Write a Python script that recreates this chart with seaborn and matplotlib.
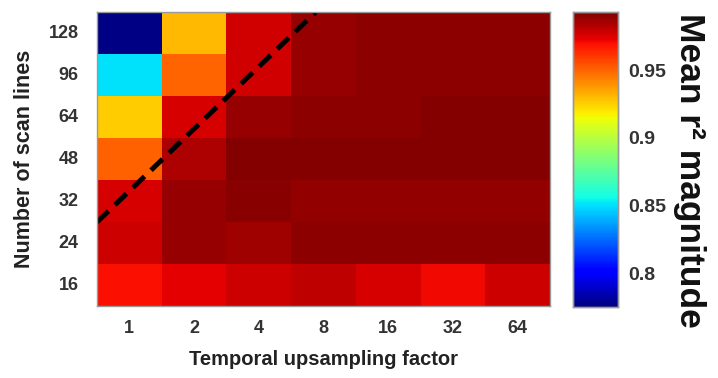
import numpy as np
import pandas as pd
import matplotlib
matplotlib.use("Agg")
import matplotlib.pyplot as plt
import seaborn as sns

# Temporal upsampling factors (columns) and scan-line counts (rows, top to bottom)
upsampling = ["1", "2", "4", "8", "16", "32", "64"]
scan_lines = ["128", "96", "64", "48", "32", "24", "16"]

# Mean r^2 magnitude per scan-line count, one list per row
r2_128 = [0.776, 0.930, 0.977, 0.988, 0.990, 0.990, 0.990]
r2_96 = [0.850, 0.950, 0.977, 0.988, 0.990, 0.990, 0.990]
r2_64 = [0.926, 0.976, 0.988, 0.990, 0.990, 0.992, 0.992]
r2_48 = [0.951, 0.984, 0.992, 0.992, 0.992, 0.992, 0.992]
r2_32 = [0.976, 0.988, 0.991, 0.989, 0.989, 0.989, 0.989]
r2_24 = [0.978, 0.988, 0.987, 0.990, 0.990, 0.990, 0.990]
r2_16 = [0.970, 0.974, 0.978, 0.981, 0.976, 0.971, 0.978]

# Colour limits of the scale
c_min, c_max = 0.775, 0.993
cbar_ticks = [0.8, 0.85, 0.9, 0.95]
cbar_ticklabels = ["0.8", "0.85", "0.9", "0.95"]

# Boundary line endpoints in cell units (x from left edge, y from top edge)
boundary_x = [0.0, 3.38]
boundary_y = [5.0, 0.0]

grid = pd.DataFrame([r2_128, r2_96, r2_64, r2_48, r2_32, r2_24, r2_16],
                    index=scan_lines, columns=upsampling)

sns.set_style("white")
plt.rcParams["font.family"] = ["Liberation Sans", "DejaVu Sans"]
plt.rcParams["font.weight"] = "bold"

fig = plt.figure(figsize=(7.18, 3.78), dpi=100)
ax = fig.add_axes([0.135, 0.19, 0.631, 0.778])
cax = fig.add_axes([0.798, 0.188, 0.063, 0.780])

sns.heatmap(grid, ax=ax, cmap="jet", vmin=c_min, vmax=c_max,
            cbar_ax=cax, cbar_kws={"ticks": cbar_ticks})

ax.plot(boundary_x, boundary_y, color="black", lw=3.6,
        linestyle=(0, (3.2, 1.8)), solid_capstyle="butt", dash_capstyle="butt")

tick_color = "#333333"
ax.set_xticks(np.arange(len(upsampling)) + 0.5)
ax.set_xticklabels(upsampling, rotation=0, fontsize=13, color=tick_color)
ax.set_yticks(np.arange(len(scan_lines)) + 0.5)
ax.set_yticklabels(scan_lines, rotation=0, fontsize=13, color=tick_color)
ax.tick_params(axis="x", which="both", direction="in", length=3, width=0.8,
               color="#555555", top=True, bottom=True, pad=10)
ax.tick_params(axis="y", which="both", direction="in", length=3, width=0.8,
               color="#555555", left=True, right=True, pad=13)
ax.set_xlabel("Temporal upsampling factor", fontsize=14.5, fontweight="bold",
              color="#222222", labelpad=9)
ax.set_ylabel("Number of scan lines", fontsize=15.5, fontweight="bold",
              color="#222222", labelpad=10)
for side in ax.spines.values():
    side.set_visible(True)
    side.set_color("#999999")
    side.set_linewidth(1.0)

cax.set_yticklabels(cbar_ticklabels)
cax.tick_params(axis="y", direction="in", length=3, color="#555555",
                labelsize=14, labelcolor=tick_color, pad=7)
for side in cax.spines.values():
    side.set_visible(True)
    side.set_color("#999999")
    side.set_linewidth(1.0)

# Colour-scale title, written top to bottom beside the bar
fig.text(0.961, 0.55, "Mean r\u00b2 magnitude", fontsize=25.5, fontweight="bold",
         color="#111111", rotation=270, ha="center", va="center")

fig.savefig("out.png", dpi=100)
